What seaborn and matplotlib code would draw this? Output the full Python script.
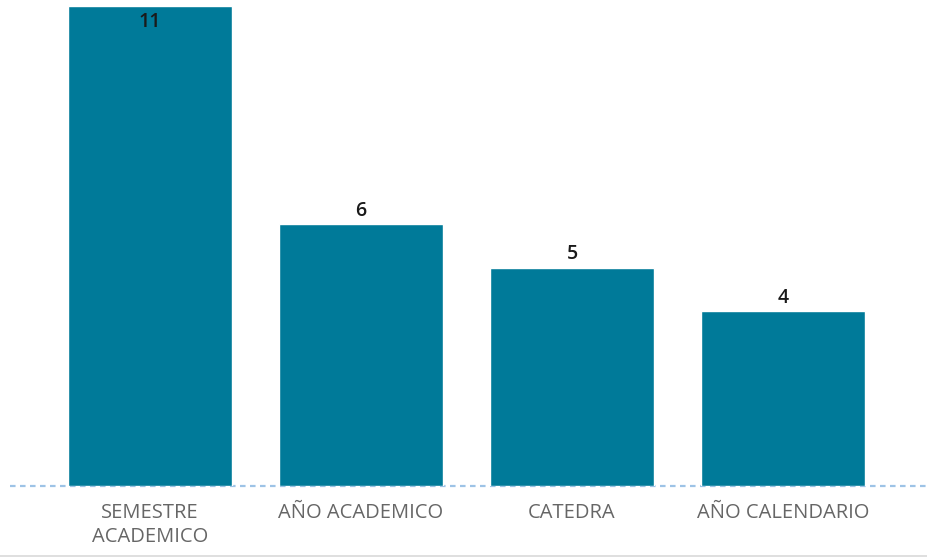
import matplotlib
matplotlib.use('Agg')
import matplotlib.pyplot as plt
import seaborn as sns
import pandas as pd
from matplotlib.lines import Line2D

# datos
categorias = ['SEMESTRE\nACADEMICO', 'AÑO ACADEMICO', 'CATEDRA', 'AÑO CALENDARIO']
valores = [11, 6, 5, 4]

df = pd.DataFrame({'categoria': categorias, 'valor': valores})

sns.set_style('white')
plt.rcParams['font.family'] = ['Open Sans', 'DejaVu Sans']

fig = plt.figure(figsize=(9.28, 5.6), dpi=100)
ax = fig.add_axes([10 / 928, 74 / 560, 918 / 928, 486 / 560])

sns.barplot(data=df, x='categoria', y='valor', color='#007A99',
            width=0.775, saturation=1, ax=ax)

ax.set_xlim((10 - 150) / 211, (928 - 150) / 211)
ax.set_ylim(0, 11 * 486 / 480)

# etiquetas de valor
ymax = ax.get_ylim()[1]
for i, v in enumerate(valores):
    if v > ymax * 0.95:
        ax.text(i, v - 0.14, str(v), ha='center', va='top', fontsize=14,
                color='#1a1a1a', fontweight='semibold')
    else:
        ax.text(i, v + 0.08, str(v), ha='center', va='bottom', fontsize=14,
                color='#1a1a1a', fontweight='semibold')

# linea base punteada
ax.axhline(0, color='#9DC3E6', linestyle=(0, (2.5, 2)), linewidth=1.6, zorder=0, clip_on=False)

for s in ax.spines.values():
    s.set_visible(False)
ax.set_yticks([])
ax.set_xlabel('')
ax.set_ylabel('')
ax.tick_params(axis='x', length=0, pad=12, labelsize=14.5, labelcolor='#666666')
for lbl in ax.get_xticklabels():
    lbl.set_linespacing(1.3)

# linea inferior gris
fig.add_artist(Line2D([0, 1], [4 / 560, 4 / 560], color='#d9d9d9', linewidth=1.2))

fig.savefig('out.png', dpi=100)
